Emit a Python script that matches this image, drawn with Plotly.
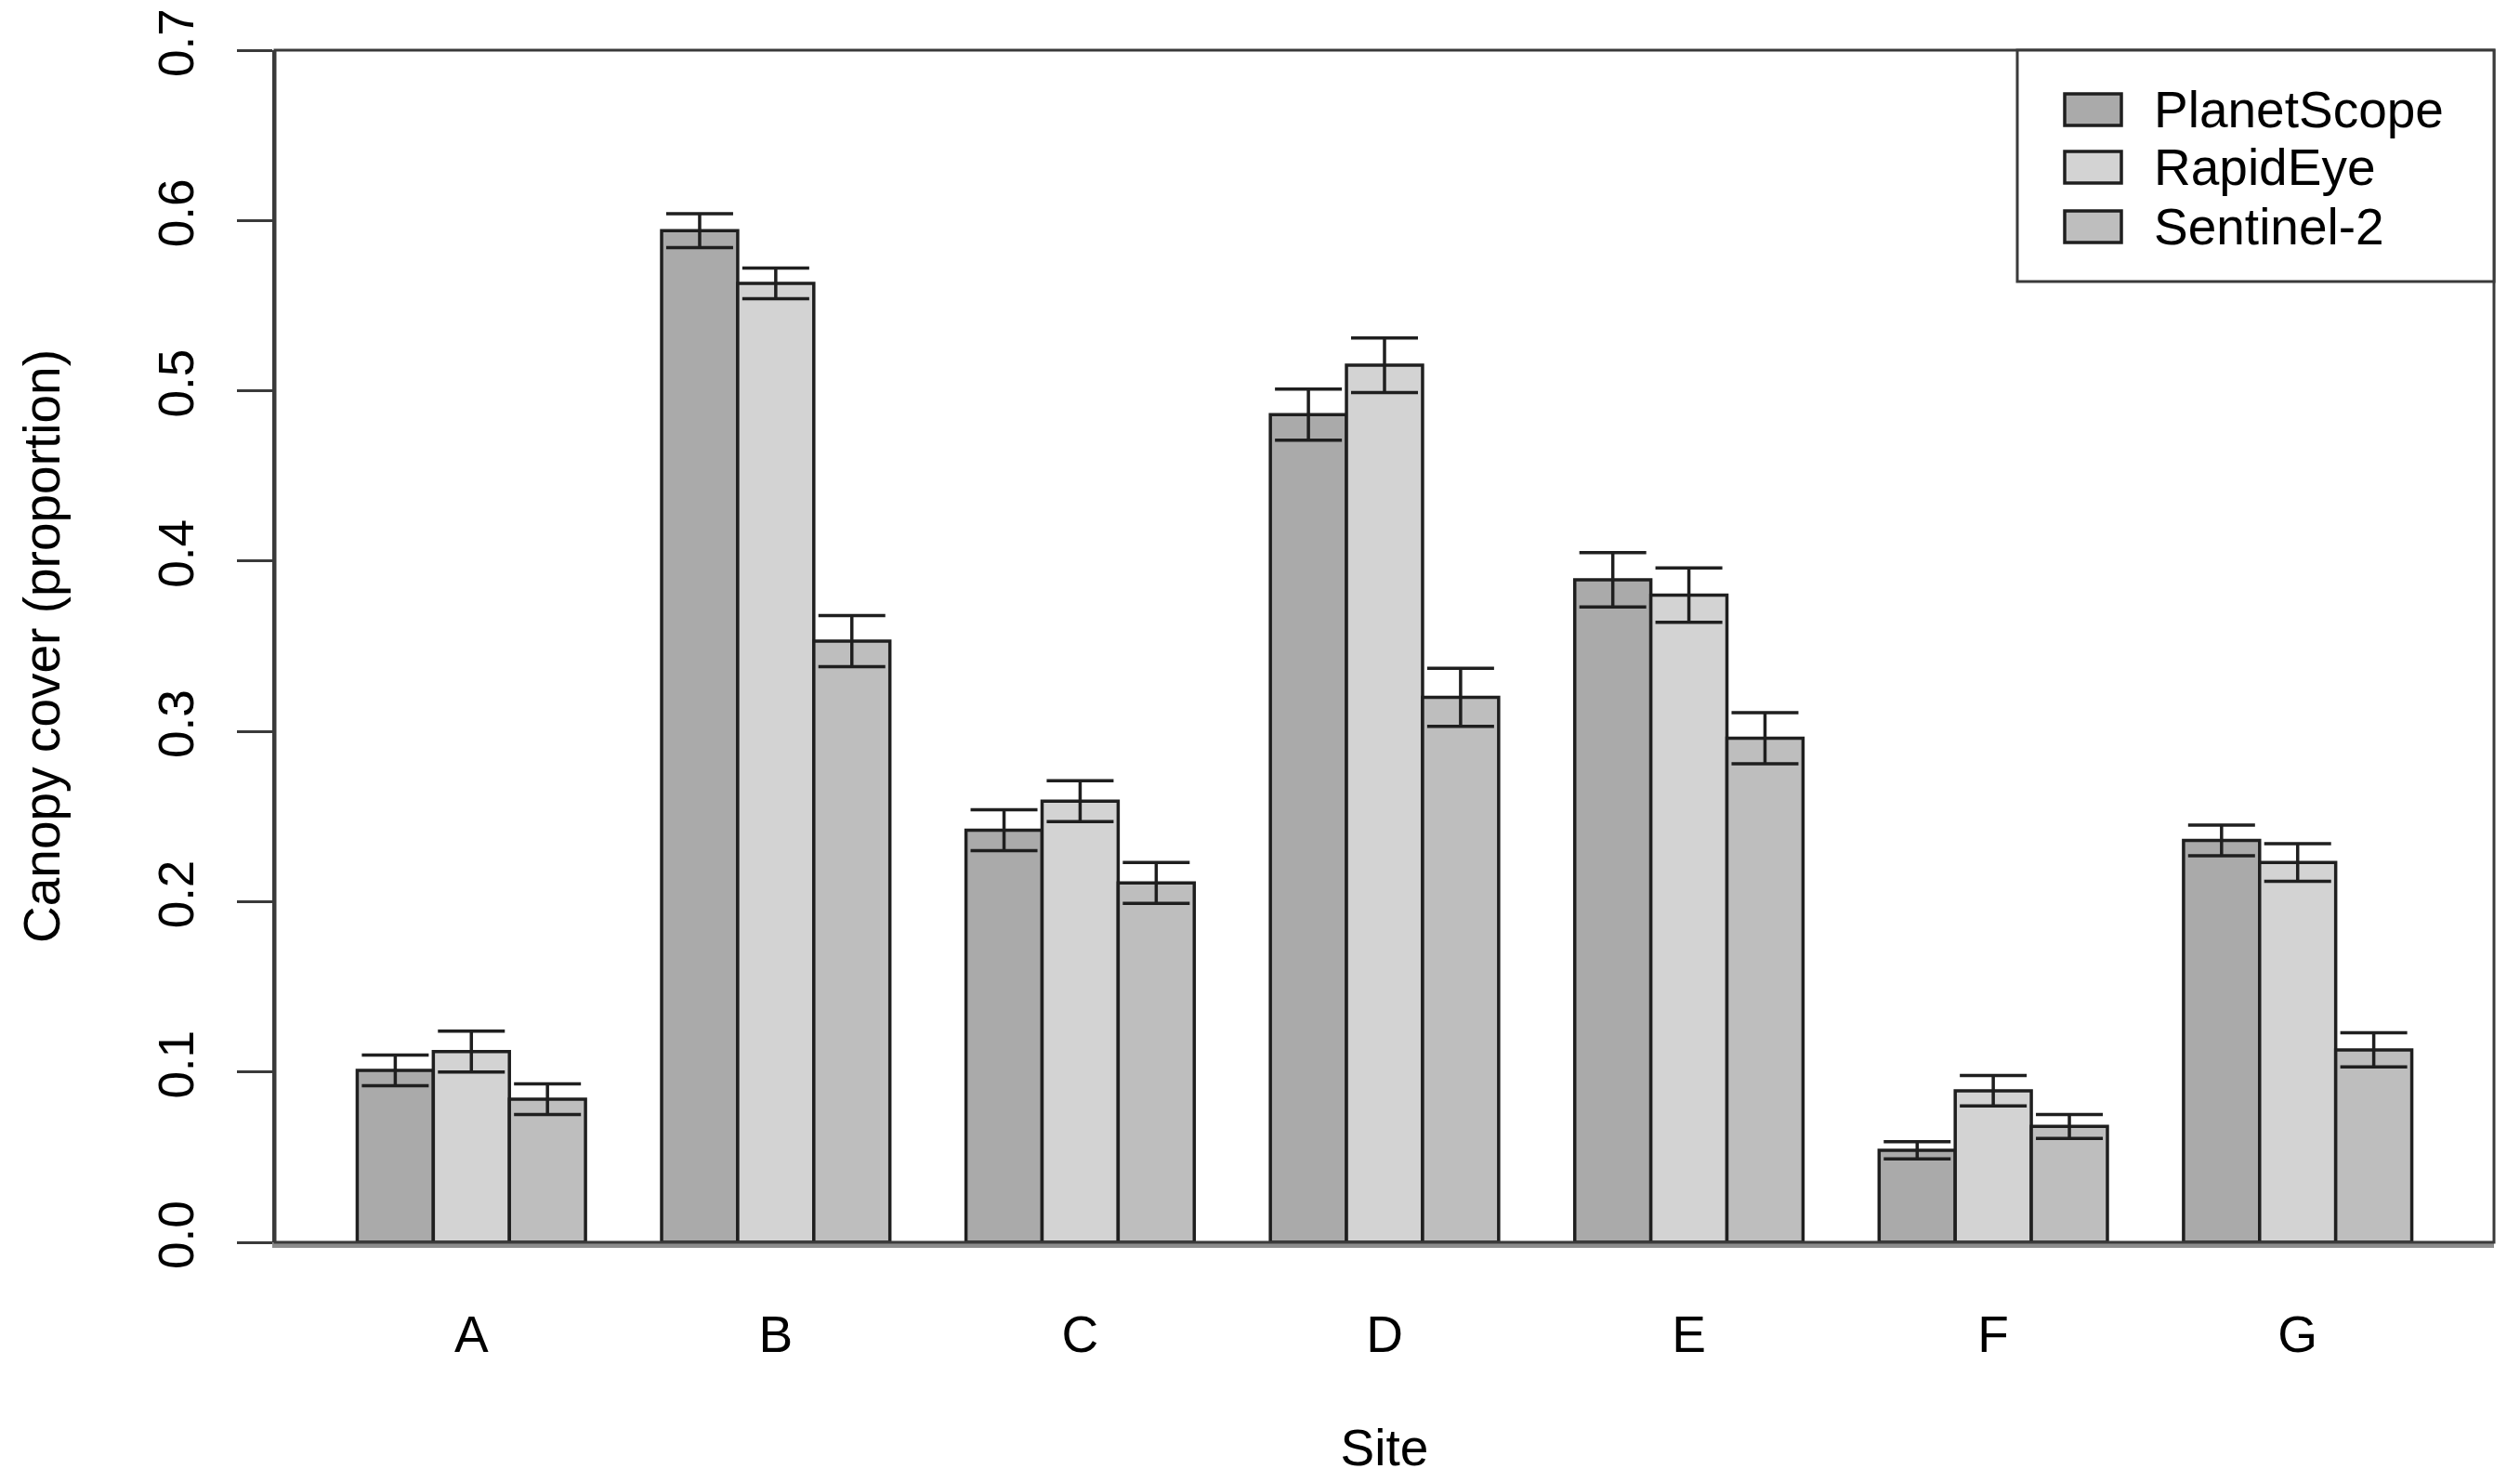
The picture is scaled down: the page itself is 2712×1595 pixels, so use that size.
import plotly.graph_objects as go

sites = ["A", "B", "C", "D", "E", "F", "G"]
series_names = ["PlanetScope", "RapidEye", "Sentinel-2"]
planetscope = [0.101, 0.594, 0.242, 0.486, 0.389, 0.054, 0.236]
rapideye = [0.112, 0.563, 0.259, 0.515, 0.380, 0.089, 0.223]
sentinel2 = [0.084, 0.353, 0.211, 0.320, 0.296, 0.068, 0.113]
planetscope_err = [0.009, 0.010, 0.012, 0.015, 0.016, 0.005, 0.009]
rapideye_err = [0.012, 0.009, 0.012, 0.016, 0.016, 0.009, 0.011]
sentinel2_err = [0.009, 0.015, 0.012, 0.017, 0.015, 0.007, 0.010]
y_ticks = [0.0, 0.1, 0.2, 0.3, 0.4, 0.5, 0.6, 0.7]
y_tick_labels = ["0.0", "0.1", "0.2", "0.3", "0.4", "0.5", "0.6", "0.7"]

values = [planetscope, rapideye, sentinel2]
errors = [planetscope_err, rapideye_err, sentinel2_err]
colors = ["#aaaaaa", "#d3d3d3", "#bebebe"]

FONT = "Liberation Sans, Arial, Helvetica, sans-serif"
W, H = 2712, 1595
OFF = 8  # page body margin offset
# desired plot area in page pixels
PX0, PX1, PY0, PY1 = 296, 2684, 54, 1337
L, T = PX0 - OFF, PY0 - OFF
R = W - (PX1 - OFF)
B = H - (PY1 - OFF)

fig = go.Figure()
for name, vals, errs, col in zip(series_names, values, errors, colors):
    fig.add_trace(go.Bar(
        x=sites, y=vals, name=name,
        marker=dict(color=col, line=dict(color="#1f1f1f", width=3.5)),
        error_y=dict(type="data", array=errs, visible=True,
                     color="#1f1f1f", thickness=3.5, width=36),
        showlegend=False,
    ))

fig.update_layout(
    width=W, height=H,
    margin=dict(l=L, r=R, t=T, b=B, pad=0, autoexpand=False),
    paper_bgcolor="white", plot_bgcolor="white",
    barmode="group", bargap=0.25, bargroupgap=0,
    font=dict(family=FONT, size=52, color="black"),
)

fig.update_xaxes(
    range=[-0.645, 6.645], showgrid=False, zeroline=False, automargin=False,
    showline=True, linecolor="#8c8c8c", linewidth=6,
    ticks="", ticklabelstandoff=46,
    tickfont=dict(size=55),
    title=dict(text="Site", font=dict(size=55), standoff=74),
)
fig.update_yaxes(
    range=[0, 0.7], showgrid=False, zeroline=False, automargin=False,
    showline=True, linecolor="#3a3a3a", linewidth=3,
    ticks="outside", ticklen=38, tickwidth=3, tickcolor="#3a3a3a",
    tickvals=y_ticks, ticktext=y_tick_labels, tickangle=-90,
    tickfont=dict(size=53), ticklabelstandoff=26,
    title=dict(text="Canopy cover (proportion)", font=dict(size=55), standoff=78),
)

# plot box (top and right edges)
fig.add_shape(type="rect", xref="paper", yref="paper", x0=0, x1=1, y0=0, y1=1,
              line=dict(color="#3a3a3a", width=3), fillcolor="rgba(0,0,0,0)", layer="above")

# manual legend in R style (positions given in page pixels)
pw = PX1 - PX0
ph = PY1 - PY0
def px_x(x):
    return (x - PX0) / pw
def px_y(y):
    return (PY1 - y) / ph

fig.add_shape(type="rect", xref="paper", yref="paper",
              x0=px_x(2171), x1=1, y0=px_y(303), y1=1,
              line=dict(color="#3a3a3a", width=3), fillcolor="white", layer="above")
row_y = [118, 180, 244]
for name, col, ry in zip(series_names, colors, row_y):
    fig.add_shape(type="rect", xref="paper", yref="paper",
                  x0=px_x(2222), x1=px_x(2283), y0=px_y(ry + 17), y1=px_y(ry - 17),
                  line=dict(color="#1f1f1f", width=3.5), fillcolor=col, layer="above")
    fig.add_annotation(xref="paper", yref="paper", x=px_x(2316), y=px_y(ry),
                       text=name, showarrow=False, xanchor="left", yanchor="middle",
                       font=dict(size=55, family=FONT, color="black"))

fig.write_html("out.html")
